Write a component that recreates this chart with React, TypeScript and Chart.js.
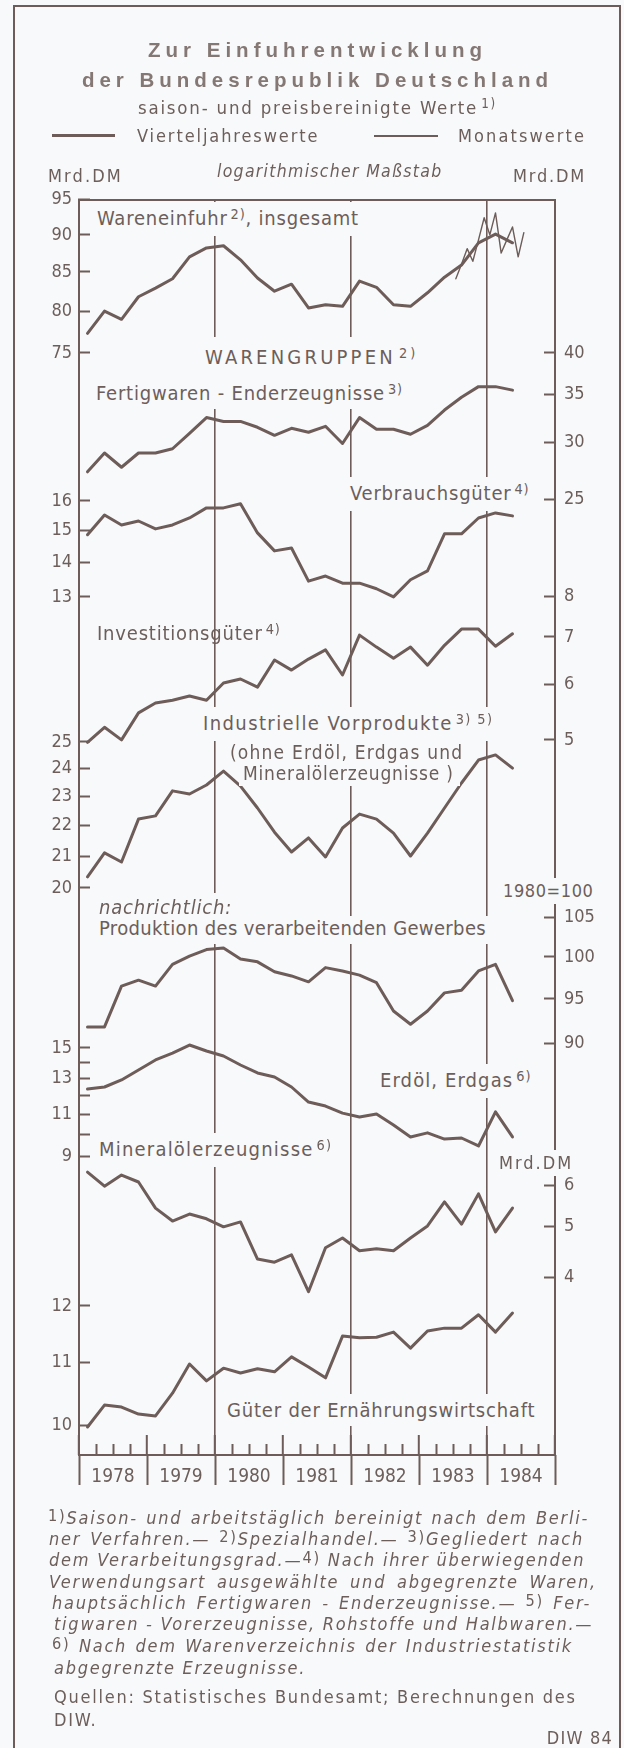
import React, { useEffect, useRef } from 'react';
import { Chart, registerables } from 'chart.js';

Chart.register(...registerables);

// ---------------- data ----------------
const years = ['1978', '1979', '1980', '1981', '1982', '1983', '1984'];
const firstYear = 1978;
const lastYear = 1985;
const markedYears = [1980, 1982, 1984];

// quarterly values 1978 Q1 – 1984 Q2 (Mrd. DM, 1980 = 100 for production)
const importsTotalQ = [77.3, 80.0, 79.0, 81.8, 82.9, 84.1, 87.0, 88.2, 88.5, 86.6, 84.2, 82.5, 83.4, 80.4, 80.8, 80.6, 83.8, 83.0, 80.8, 80.6, 82.3, 84.3, 85.9, 88.9, 90.1, 88.9];
// monthly values Jul 1983 – Jul 1984
const importsTotalM = [84.1, 86.0, 88.1, 86.4, 89.3, 92.4, 90.0, 93.1, 87.5, 89.3, 91.1, 87.0, 90.3];
const importsTotalMStart = 66; // months after Jan 1978
const finishedGoodsQ = [27.3, 29.0, 27.7, 29.0, 29.0, 29.4, 30.9, 32.5, 32.1, 32.1, 31.5, 30.7, 31.4, 31.0, 31.6, 29.9, 32.5, 31.3, 31.3, 30.8, 31.7, 33.3, 34.7, 35.9, 35.9, 35.5];
const consumerGoodsQ = [14.87, 15.52, 15.19, 15.32, 15.06, 15.19, 15.42, 15.76, 15.76, 15.9, 14.93, 14.36, 14.45, 13.45, 13.6, 13.39, 13.39, 13.23, 13.0, 13.49, 13.75, 14.9, 14.9, 15.42, 15.59, 15.49];
const capitalGoodsQ = [4.96, 5.21, 5.0, 5.46, 5.64, 5.69, 5.77, 5.69, 6.02, 6.1, 5.94, 6.49, 6.28, 6.51, 6.71, 6.18, 7.04, 6.77, 6.53, 6.77, 6.38, 6.81, 7.18, 7.18, 6.79, 7.07];
const intermediateQ = [20.34, 21.1, 20.81, 22.22, 22.33, 23.2, 23.09, 23.41, 23.91, 23.37, 22.6, 21.78, 21.13, 21.59, 20.97, 21.92, 22.39, 22.22, 21.75, 21.0, 21.75, 22.6, 23.48, 24.32, 24.51, 24.02];
const manufacturingQ = [91.8, 91.8, 96.5, 97.2, 96.5, 99.1, 100.1, 100.9, 101.1, 99.75, 99.4, 98.2, 97.7, 97.0, 98.7, 98.3, 97.8, 96.9, 93.6, 92.1, 93.6, 95.7, 96.0, 98.3, 99.1, 94.8];
const crudeOilGasQ = [12.37, 12.49, 12.91, 13.53, 14.18, 14.65, 15.21, 14.79, 14.45, 13.85, 13.34, 13.09, 12.49, 11.64, 11.42, 11.05, 10.85, 11.0, 10.45, 9.88, 10.07, 9.78, 9.83, 9.47, 11.11, 9.88];
const petroleumProductsQ = [6.35, 5.97, 6.27, 6.08, 5.42, 5.12, 5.28, 5.17, 4.99, 5.1, 4.33, 4.27, 4.41, 3.75, 4.55, 4.75, 4.49, 4.53, 4.49, 4.75, 5.01, 5.57, 5.05, 5.77, 4.88, 5.42];
const foodGoodsQ = [9.97, 10.31, 10.28, 10.17, 10.14, 10.5, 10.98, 10.7, 10.91, 10.83, 10.9, 10.85, 11.1, 10.93, 10.75, 11.46, 11.43, 11.44, 11.53, 11.25, 11.55, 11.6, 11.6, 11.84, 11.53, 11.87];

// axis ticks
const importsTicks = [75, 80, 85, 90, 95];
const finishedTicks = [25, 30, 35, 40];
const consumerTicks = [13, 14, 15, 16];
const capitalTicks = [5, 6, 7, 8];
const intermediateTicks = [20, 21, 22, 23, 24, 25];
const manufacturingTicks = [90, 95, 100, 105];
const crudeTicks = [9, 10, 11, 12, 13, 14, 15];
const crudeTickLabels = [9, 11, 13, 15];
const petroleumTicks = [4, 5, 6];
const foodTicks = [10, 11, 12];

// ---------------- style ----------------
const LINE = '#6d5c58';
const TXT = '#6d5e5a';
const TITLE = '#857773';
const BG = '#f7f9fb';
const FONT = "'DejaVu Sans Condensed', 'Liberation Sans Narrow', 'DejaVu Sans', sans-serif";

const quarterPoints = (vals: number[]) => vals.map((y, i) => ({ x: firstYear + (i + 0.5) / 4, y }));
const monthPoints = (vals: number[], start: number) => vals.map((y, i) => ({ x: firstYear + (start + i + 0.5) / 12, y }));
const range = (a: number, b: number, step: number) => {
  const out: number[] = [];
  for (let v = a; v <= b + 1e-9; v += step) out.push(Math.round(v * 100) / 100);
  return out;
};

// axes are stacked on top of each other (zero-size boxes); labels must not be clipped to the box
const collapse = (dim: 'width' | 'height') => (s: any) => {
  s[dim] = 0;
  s._computeLabelArea = () => undefined;
};

function yAxis(position: 'left' | 'right', min: number, max: number, tickValues: number[], labelled?: number[], border = false) {
  const shown = labelled ?? tickValues;
  return {
    type: 'logarithmic',
    position,
    min,
    max,
    bounds: 'data',
    afterBuildTicks: (s: any) => { s.ticks = tickValues.map((v) => ({ value: v })); },
    afterFit: collapse('width'),
    grid: { drawOnChartArea: false, drawTicks: true, tickLength: -11, tickColor: LINE, tickWidth: 2, color: LINE },
    border: { display: border, color: LINE, width: 2 },
    ticks: {
      autoSkip: false,
      padding: position === 'left' ? 18 : 20,
      color: TXT,
      font: { family: FONT, size: 18 },
      callback: (v: any) => (shown.includes(Number(v)) ? String(v) : ''),
    },
  };
}

function xAxis(extra: any) {
  return {
    type: 'linear',
    position: 'bottom',
    min: firstYear,
    max: lastYear,
    afterFit: collapse('height'),
    ticks: { display: false },
    border: { display: false },
    ...extra,
  };
}

const quarterTicks = range(firstYear, lastYear, 0.25).filter((v) => Math.abs(v - Math.round(v)) > 1e-6);
const yearTicks = range(firstYear, lastYear, 1);
const yearLabelTicks = years.map((_, i) => firstYear + i + 0.5);

function buildConfig(): any {
  const ds = (data: any[], yAxisID: string, width = 3) => ({
    data, yAxisID, xAxisID: 'x', borderColor: LINE, borderWidth: width, pointRadius: 0,
    borderJoinStyle: 'round', borderCapStyle: 'round', tension: 0, fill: false,
  });
  return {
    type: 'line',
    data: {
      datasets: [
        ds(quarterPoints(importsTotalQ), 'yImports'),
        ds(monthPoints(importsTotalM, importsTotalMStart), 'yImports', 1.4),
        ds(quarterPoints(finishedGoodsQ), 'yFinished'),
        ds(quarterPoints(consumerGoodsQ), 'yConsumer'),
        ds(quarterPoints(capitalGoodsQ), 'yCapital'),
        ds(quarterPoints(intermediateQ), 'yIntermediate'),
        ds(quarterPoints(manufacturingQ), 'yManufacturing'),
        ds(quarterPoints(crudeOilGasQ), 'yCrude'),
        ds(quarterPoints(petroleumProductsQ), 'yPetroleum'),
        ds(quarterPoints(foodGoodsQ), 'yFood'),
      ],
    },
    options: {
      animation: false,
      responsive: false,
      devicePixelRatio: 1,
      events: [],
      layout: { padding: { left: 79, right: 69, top: 200, bottom: 293 } },
      plugins: { legend: { display: false }, tooltip: { enabled: false }, title: { display: false } },
      scales: {
        x: xAxis({
          afterBuildTicks: (s: any) => { s.ticks = quarterTicks.map((v) => ({ value: v })); },
          grid: { drawOnChartArea: false, tickLength: -11, tickColor: LINE, tickWidth: 2 },
          border: { display: true, color: LINE, width: 2 },
        }),
        xUp: xAxis({
          afterBuildTicks: (s: any) => { s.ticks = yearTicks.map((v) => ({ value: v })); },
          grid: {
            drawOnChartArea: true,
            tickLength: -20,
            tickColor: LINE,
            tickWidth: 2,
            lineWidth: 1.6,
            color: (c: any) => (c.tick && markedYears.includes(c.tick.value) ? LINE : 'rgba(0,0,0,0)'),
          },
        }),
        xDown: xAxis({
          afterBuildTicks: (s: any) => { s.ticks = yearTicks.map((v) => ({ value: v })); },
          grid: { drawOnChartArea: false, tickLength: 30, tickColor: LINE, tickWidth: 2 },
        }),
        xLabels: xAxis({
          afterBuildTicks: (s: any) => { s.ticks = yearLabelTicks.map((v) => ({ value: v })); },
          grid: { display: false, drawTicks: false },
          ticks: {
            display: true, autoSkip: false, maxRotation: 0, minRotation: 0, padding: 11, color: TXT,
            font: { family: FONT, size: 19 },
            callback: (v: any) => years[Math.floor(Number(v)) - firstYear] ?? '',
          },
        }),
        xTop: xAxis({
          position: 'top',
          grid: { display: false, drawTicks: false },
          border: { display: true, color: LINE, width: 2 },
        }),
        yImports: yAxis('left', 13.692, 94.97, importsTicks, undefined, true),
        yFinished: yAxis('right', 1.1566, 65.42, finishedTicks, undefined, true),
        yConsumer: yAxis('left', 2.0289, 30.69, consumerTicks),
        yCapital: yAxis('right', 0.48303, 29.184, capitalTicks),
        yIntermediate: yAxis('left', 8.4035, 57.26, intermediateTicks),
        yManufacturing: yAxis('right', 54.395, 252.27, manufacturingTicks),
        yCrude: yAxis('left', 2.2194, 803.7, crudeTicks, crudeTickLabels),
        yPetroleum: yAxis('right', 1.8265, 459.9, petroleumTicks),
        yFood: yAxis('left', 9.5517, 65.275, foodTicks),
      },
    },
  };
}

// ---------------- text helpers ----------------
const Sup = ({ children }: { children: any }) => (
  <span style={{ fontSize: '0.72em', position: 'relative', top: '-0.42em', fontStyle: 'normal', marginLeft: 3 }}>{children}</span>
);
const Mark = ({ children }: { children: any }) => (
  <span style={{ fontSize: '0.9em', position: 'relative', top: '-0.2em', fontStyle: 'normal' }}>{children}</span>
);

type LabelProps = { x: number; y: number; size?: number; mask?: number[]; style?: any; children: any };
const Label = ({ x, y, size = 20, mask, style, children }: LabelProps) => {
  const pad = mask ?? [0, 0, 0, 0];
  return (
    <div
      style={{
        position: 'absolute', left: x - pad[3], top: y - size / 2 - pad[0], fontSize: size, lineHeight: `${size}px`,
        whiteSpace: 'nowrap', letterSpacing: 0.8, color: TXT,
        padding: `${pad[0]}px ${pad[1]}px ${pad[2]}px ${pad[3]}px`,
        background: mask ? BG : 'transparent', ...style,
      }}
    >
      {children}
    </div>
  );
};

const footLines: { x: number; y: number; w?: number; content: any }[] = [
  { x: 48, y: 1518, w: 541, content: <><Mark>1)</Mark>Saison- und arbeitstäglich bereinigt nach dem Berli-</> },
  { x: 49, y: 1539, w: 535, content: <>ner Verfahren.— <Mark>2)</Mark>Spezialhandel.— <Mark>3)</Mark>Gegliedert nach</> },
  { x: 49, y: 1560, w: 526, content: <>dem Verarbeitungsgrad.—<Mark>4)</Mark> Nach ihrer überwiegenden</> },
  { x: 49, y: 1582, w: 548, content: <>Verwendungsart ausgewählte und abgegrenzte Waren,</> },
  { x: 52, y: 1603, w: 539, content: <>hauptsächlich Fertigwaren - Enderzeugnisse.— <Mark>5)</Mark> Fer-</> },
  { x: 54, y: 1624, w: 534, content: <>tigwaren - Vorerzeugnisse, Rohstoffe und Halbwaren.—</> },
  { x: 52, y: 1646, w: 521, content: <><Mark>6)</Mark> Nach dem Warenverzeichnis der Industriestatistik</> },
  { x: 54, y: 1668, content: <>abgegrenzte Erzeugnisse.</> },
];

export default function App() {
  const ref = useRef<HTMLCanvasElement | null>(null);
  useEffect(() => {
    document.body.style.margin = '0';
    document.body.style.background = BG;
    const chart = new Chart(ref.current as HTMLCanvasElement, buildConfig());
    return () => chart.destroy();
  }, []);

  return (
    <div style={{ position: 'relative', width: 624, height: 1748, overflow: 'hidden', background: BG, fontFamily: FONT, color: TXT }}>
      <div style={{ position: 'absolute', left: 13, top: 5, width: 608, height: 1800, border: `2px solid ${LINE}`, boxSizing: 'border-box' }} />
      <canvas ref={ref} width={624} height={1748} style={{ position: 'absolute', left: 0, top: 0, width: 624, height: 1748 }} />

      {/* header */}
      <div style={{ position: 'absolute', left: 14, width: 607, top: 35, textAlign: 'center', fontFamily: "'Liberation Sans', Arial, sans-serif", fontWeight: 'bold', fontSize: 20.5, lineHeight: '30px', letterSpacing: 5, color: TITLE }}>
        <div>Zur Einfuhrentwicklung</div>
        <div>der Bundesrepublik Deutschland</div>
      </div>
      <div style={{ position: 'absolute', left: 14, width: 607, top: 97, textAlign: 'center', fontSize: 18.5, lineHeight: '22px', letterSpacing: 1.8 }}>
        saison- und preisbereinigte Werte<Sup>1)</Sup>
      </div>
      <div style={{ position: 'absolute', left: 52, top: 134, width: 63, height: 3, background: LINE }} />
      <Label x={137} y={136} size={18} style={{ letterSpacing: 1.9 }}>Vierteljahreswerte</Label>
      <div style={{ position: 'absolute', left: 374, top: 135, width: 64, height: 1.5, background: LINE }} />
      <Label x={458} y={136} size={18} style={{ letterSpacing: 2.1 }}>Monatswerte</Label>
      <Label x={48} y={176} size={18} style={{ letterSpacing: 2.1 }}>Mrd.DM</Label>
      <Label x={217} y={172} size={17.5} style={{ fontStyle: 'italic', letterSpacing: 1.3 }}>logarithmischer Maßstab</Label>
      <Label x={513} y={176} size={18} style={{ letterSpacing: 1.8 }}>Mrd.DM</Label>

      {/* panel labels */}
      <Label x={97} y={218} mask={[6, 6, 6, 4]}>Wareneinfuhr<Sup>2)</Sup>, insgesamt</Label>
      <Label x={205} y={357} mask={[10, 6, 8, 6]} style={{ letterSpacing: 3.2 }}>WARENGRUPPEN<Sup>2)</Sup></Label>
      <Label x={96} y={393} mask={[6, 6, 4, 4]}>Fertigwaren - Enderzeugnisse<Sup>3)</Sup></Label>
      <Label x={350} y={493} mask={[6, 6, 6, 6]}>Verbrauchsgüter<Sup>4)</Sup></Label>
      <Label x={97} y={633}>Investitionsgüter<Sup>4)</Sup></Label>
      <Label x={203} y={723} mask={[6, 4, 6, 6]} style={{ letterSpacing: 1.4 }}>Industrielle Vorprodukte<Sup>3) 5)</Sup></Label>
      <Label x={230} y={752} size={19} mask={[2, 6, 1, 4]} style={{ letterSpacing: 1.2 }}>(ohne Erdöl, Erdgas und</Label>
      <Label x={243} y={773} size={19} mask={[1, 6, 3, 4]}>Mineralölerzeugnisse )</Label>
      <Label x={503} y={891} size={18} mask={[4, 2, 4, 2]} style={{ letterSpacing: 0.6 }}>1980=100</Label>
      <Label x={99} y={907} mask={[4, 6, 0, 4]} style={{ fontStyle: 'italic' }}>nachrichtlich:</Label>
      <Label x={99} y={928} mask={[2, 4, 6, 4]} style={{ letterSpacing: 0.35 }}>Produktion des verarbeitenden Gewerbes</Label>
      <Label x={380} y={1080} mask={[6, 6, 6, 6]} style={{ letterSpacing: 1.1 }}>Erdöl, Erdgas<Sup>6)</Sup></Label>
      <Label x={99} y={1149} mask={[6, 6, 6, 4]} style={{ letterSpacing: 1.2 }}>Mineralölerzeugnisse<Sup>6)</Sup></Label>
      <Label x={499} y={1163} size={18} mask={[4, 2, 4, 2]} style={{ letterSpacing: 2 }}>Mrd.DM</Label>
      <Label x={227} y={1410} mask={[6, 6, 6, 6]}>Güter der Ernährungswirtschaft</Label>

      {/* footnotes */}
      {footLines.map((l, i) => (
        <div key={i} style={{
          position: 'absolute', left: l.x, top: l.y - 11, width: l.w, fontSize: 18, lineHeight: '22px',
          fontStyle: 'italic', letterSpacing: 1.75, whiteSpace: 'nowrap',
          textAlign: l.w ? 'justify' : 'left', textAlignLast: l.w ? 'justify' : 'left',
        } as any}>{l.content}</div>
      ))}
      <Label x={54} y={1697} size={18} style={{ letterSpacing: 1.75 }}>Quellen: Statistisches Bundesamt; Berechnungen des</Label>
      <Label x={54} y={1720} size={18} style={{ letterSpacing: 1.75 }}>DIW.</Label>
      <div style={{ position: 'absolute', right: 624 - 613, top: 1727, fontSize: 18, lineHeight: '22px', letterSpacing: 1.2 }}>DIW 84</div>
    </div>
  );
}
